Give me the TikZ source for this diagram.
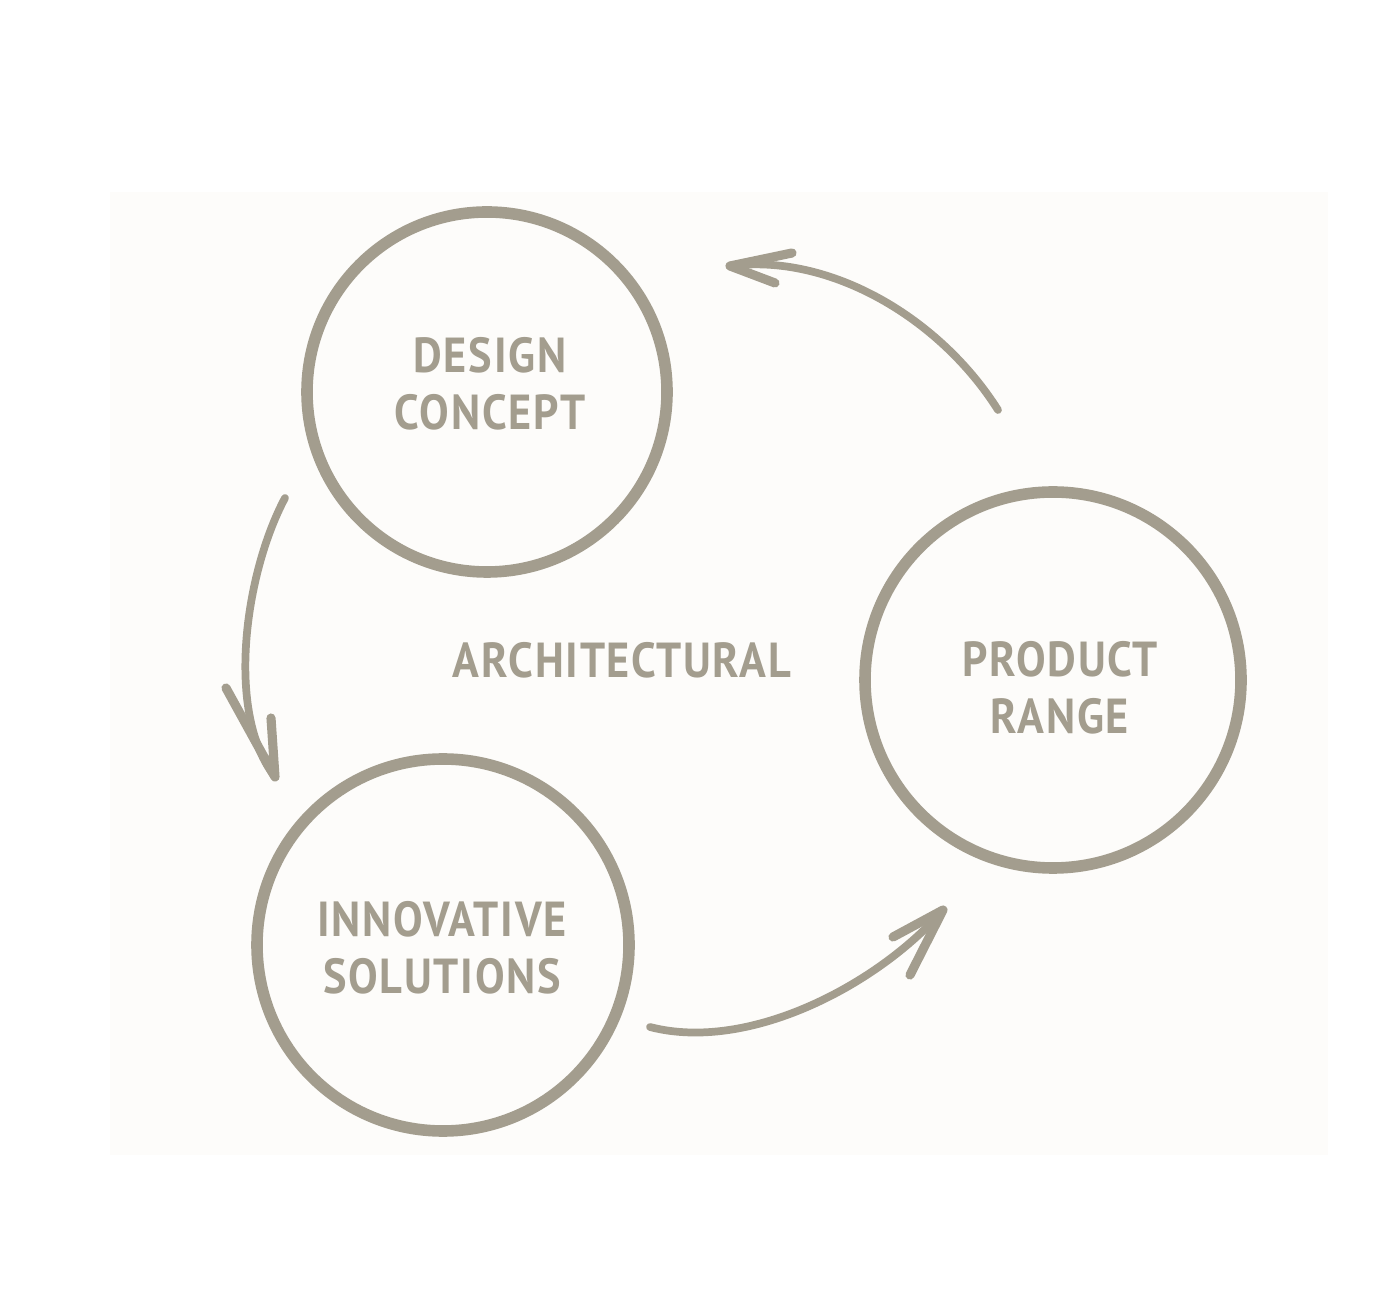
\documentclass[tikz,border=0pt]{standalone}
\usepackage{fontspec}
\setmainfont{PT Sans}[LetterSpace=4]
\definecolor{ink}{HTML}{A39D8E}
\definecolor{paper}{HTML}{FDFCFA}
\tikzset{
  ring/.style={draw=ink, line width=3.3pt, circle},
  brush/.style={draw=ink, line width=2.2pt, line cap=round},
  barb/.style={draw=ink, line width=2.6pt, line cap=round, line join=round},
  lbl/.style={text=ink, font=\fontsize{14}{16.3}\selectfont\bfseries, align=center, inner sep=0pt, xscale=0.9}
}
\begin{document}
\begin{tikzpicture}
\useasboundingbox (0,0) rectangle (14,13.13);
\fill[paper] (1.10,1.58) rectangle (13.28,11.21);
% circles
\node[ring, minimum size=3.6cm] (dc) at (4.87,9.21) {};
\node[ring, minimum size=3.72cm] (is) at (4.43,3.68) {};
\node[ring, minimum size=3.76cm] (pr) at (10.53,6.33) {};
% labels
\node[lbl] (dct) at (4.90,9.29) {DESIGN\\CONCEPT};
\node[lbl] (ist) at (4.42,3.65) {INNOVATIVE\\SOLUTIONS};
\node[lbl] (prt) at (10.60,6.25) {PRODUCT\\RANGE};
\node[lbl] (arch) at (6.22,6.53) {ARCHITECTURAL};
% top arrow
\coordinate (a1s) at (9.98,9.03);
\coordinate (a1e) at (7.30,10.47);
\coordinate (a1b1) at (7.92,10.60);
\coordinate (a1b2) at (7.75,10.30);
\draw[brush] (a1s) .. controls (9.40,9.95) and (8.3,10.6) .. (a1e);
\draw[barb] (a1b1) -- (a1e) -- (a1b2);
% left arrow
\coordinate (a2s) at (2.85,8.15);
\coordinate (a2e) at (2.75,5.36);
\coordinate (a2b1) at (2.26,6.25);
\coordinate (a2b2) at (2.71,5.95);
\draw[brush] (a2s) .. controls (2.45,7.4) and (2.25,6.0) .. (a2e);
\draw[barb] (a2b1) -- (a2e) -- (a2b2);
% bottom arrow
\coordinate (a3s) at (6.50,2.86);
\coordinate (a3e) at (9.43,4.03);
\coordinate (a3b1) at (8.93,3.76);
\coordinate (a3b2) at (9.10,3.38);
\draw[brush] (a3s) .. controls (7.5,2.6) and (8.8,3.3) .. (a3e);
\draw[barb] (a3b1) -- (a3e) -- (a3b2);
\end{tikzpicture}
\end{document}
